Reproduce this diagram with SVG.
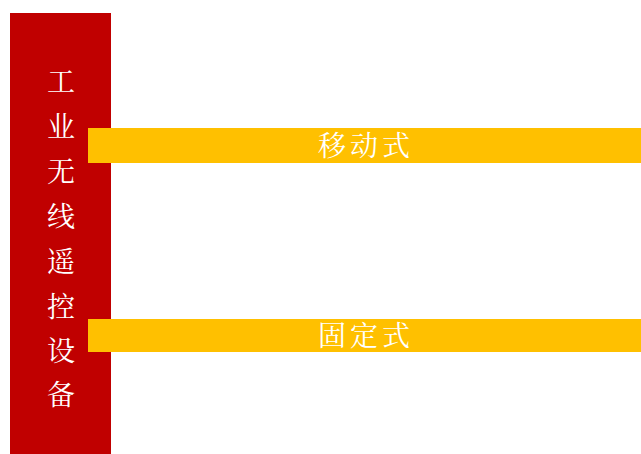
<svg xmlns="http://www.w3.org/2000/svg" width="641" height="454" viewBox="0 0 641 454">
<style>
.t{font-family:"Noto Serif CJK SC","Noto Sans CJK SC",serif;fill:#FFFFFF;font-size:28px;text-anchor:middle}
</style>
<rect width="641" height="454" fill="#FFFFFF"/>
<g id="title">
<rect x="10" y="13" width="101" height="441" fill="#C00000"/>
<text class="t" x="61" y="92">工</text>
<text class="t" x="61" y="137">业</text>
<text class="t" x="61" y="182">无</text>
<text class="t" x="61" y="227">线</text>
<text class="t" x="61" y="272">遥</text>
<text class="t" x="61" y="317">控</text>
<text class="t" x="61" y="361">设</text>
<text class="t" x="61" y="405">备</text>
</g>
<g id="mobile">
<rect x="88" y="128" width="553" height="35" fill="#FFC000"/>
<text class="t" x="366" y="156" letter-spacing="4">移动式</text>
</g>
<g id="fixed">
<rect x="88" y="319" width="553" height="33" fill="#FFC000"/>
<text class="t" x="366" y="346" letter-spacing="4">固定式</text>
</g>
<g id="connectors"></g>
</svg>
